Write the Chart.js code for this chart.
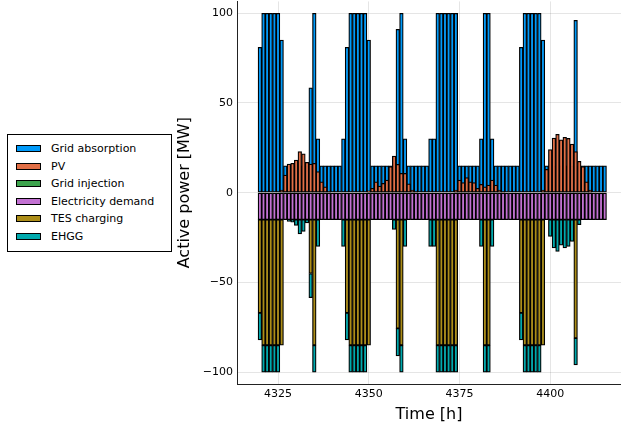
<!DOCTYPE html>
<html>
<head>
<meta charset="utf-8">
<script src="https://cdn.jsdelivr.net/npm/chart.js@4.4.0/dist/chart.umd.min.js"></script>
<style>
  body { margin: 0; background: #fff; }
  #wrap { position: relative; width: 621px; height: 428px; }
  #legend {
    position: absolute; left: 7px; top: 134px;
    width: 163px; height: 111px; padding-top: 5px;
    border: 1px solid #000; background: #fff;
    font: 11px "DejaVu Sans", sans-serif; color: #000;
  }
  .row { height: 17.5px; display: flex; align-items: center; white-space: nowrap; }
  .sw { width: 23px; height: 5px; border: 1px solid #000; margin-left: 8px; margin-right: 10px; }
</style>
</head>
<body>
<div id="wrap">
  <canvas id="powerChart" width="621" height="428"></canvas>
  <div id="legend"></div>
</div>
<script>
// hours of the simulation window
const hours = [
  4320, 4321, 4322, 4323, 4324, 4325, 4326, 4327, 4328, 4329, 4330, 4331, 4332, 4333, 4334, 4335, 4336, 4337, 4338, 4339, 4340, 4341, 4342, 4343,
  4344, 4345, 4346, 4347, 4348, 4349, 4350, 4351, 4352, 4353, 4354, 4355, 4356, 4357, 4358, 4359, 4360, 4361, 4362, 4363, 4364, 4365, 4366, 4367,
  4368, 4369, 4370, 4371, 4372, 4373, 4374, 4375, 4376, 4377, 4378, 4379, 4380, 4381, 4382, 4383, 4384, 4385, 4386, 4387, 4388, 4389, 4390, 4391,
  4392, 4393, 4394, 4395, 4396, 4397, 4398, 4399, 4400, 4401, 4402, 4403, 4404, 4405, 4406, 4407, 4408, 4409, 4410, 4411, 4412, 4413, 4414, 4415
];

const gridAbsorption = [
  81, 100, 100, 100, 100, 100, 85, 15, 15, 15, 15, 15, 15, 15, 58.5, 100, 30, 15, 15, 15, 15, 15, 15, 30,
  81, 100, 100, 100, 100, 100, 85, 15, 15, 15, 15, 15, 15, 15, 91, 100, 30, 15, 15, 15, 15, 15, 15, 30,
  30, 100, 100, 100, 100, 100, 100, 15, 15, 15, 15, 15, 15, 30, 100, 100, 30, 15, 15, 15, 15, 15, 15, 15,
  81, 100, 100, 100, 100, 100, 85, 15, 15, 15, 15, 15, 15, 15, 15, 96, 15, 15, 15, 15, 15, 15, 15, 15
];

const pv = [
  0, 0, 0, 0, 0, 0, 1.5, 9.8, 16, 16.4, 18.2, 22.9, 21.6, 16.9, 16, 16.4, 11.7, 6.1, 3.3, 0.5, 0, 0, 0, 0,
  0, 0, 0, 0, 0, 0, 1, 2.4, 6.1, 3.7, 5.2, 7, 14.5, 20.4, 15.8, 10.8, 10.8, 5, 1.5, 0.3, 0, 0, 0, 0,
  0, 0, 0, 0, 0, 0, 1.5, 7, 5.6, 8.4, 6.1, 5.6, 2.4, 4.6, 3.3, 4.3, 7, 4.3, 1.5, 0.3, 0, 0, 0, 0,
  0, 0, 0, 0, 0, 0, 1.5, 13, 24, 30.5, 32.5, 29.4, 30.9, 30.3, 27.1, 22.9, 17.5, 14.5, 6.1, 1.5, 0, 0, 0, 0
];

const gridInjection = [
  0, 0, 0, 0, 0, 0, 0, 0, 0, 0, 0, 0, 0, 0, 0, 0, 0, 0, 0, 0, 0, 0, 0, 0,
  0, 0, 0, 0, 0, 0, 0, 0, 0, 0, 0, 0, 0, 0, 0, 0, 0, 0, 0, 0, 0, 0, 0, 0,
  0, 0, 0, 0, 0, 0, 0, 0, 0, 0, 0, 0, 0, 0, 0, 0, 0, 0, 0, 0, 0, 0, 0, 0,
  0, 0, 0, 0, 0, 0, 0, 0, 0, 0, 0, 0, 0, 0, 0, 0, 0, 0, 0, 0, 0, 0, 0, 0
];

const electricityDemand = [
  -15, -15, -15, -15, -15, -15, -15, -15, -15, -15, -15, -15, -15, -15, -15, -15, -15, -15, -15, -15, -15, -15, -15, -15,
  -15, -15, -15, -15, -15, -15, -15, -15, -15, -15, -15, -15, -15, -15, -15, -15, -15, -15, -15, -15, -15, -15, -15, -15,
  -15, -15, -15, -15, -15, -15, -15, -15, -15, -15, -15, -15, -15, -15, -15, -15, -15, -15, -15, -15, -15, -15, -15, -15,
  -15, -15, -15, -15, -15, -15, -15, -15, -15, -15, -15, -15, -15, -15, -15, -15, -15, -15, -15, -15, -15, -15, -15, -15
];

const tesCharging = [
  -52, -70, -70, -70, -70, -70, -70, 0, 0, 0, 0, 0, 0, 0, -30, -70, 0, 0, 0, 0, 0, 0, 0, 0,
  -52, -70, -70, -70, -70, -70, -70, 0, 0, 0, 0, 0, 0, 0, -60.6, -70, 0, 0, 0, 0, 0, 0, 0, 0,
  0, -70, -70, -70, -70, -70, -70, 0, 0, 0, 0, 0, 0, 0, -70, -70, 0, 0, 0, 0, 0, 0, 0, 0,
  -52, -70, -70, -70, -70, -70, -70, 0, 0, 0, 0, 0, 0, 0, 0, -66, 0, 0, 0, 0, 0, 0, 0, 0
];

const ehgg = [
  -15, -15, -15, -15, -15, -15, 0, 0, -1, -1.4, -3.2, -8, -6.6, -1.9, -13.5, -15, -15, 0, 0, 0, 0, 0, 0, -15,
  -15, -15, -15, -15, -15, -15, 0, 0, 0, 0, 0, 0, 0, -5.4, -15.4, -15, -15, 0, 0, 0, 0, 0, 0, -15,
  -15, -15, -15, -15, -15, -15, -15, 0, 0, 0, 0, 0, 0, -15, -15, -15, -15, 0, 0, 0, 0, 0, 0, 0,
  -15, -15, -15, -15, -15, -15, 0, 0, -9.3, -15.8, -17.7, -14.3, -15.8, -14.9, -12.1, -15, -2.8, 0, 0, 0, 0, 0, 0, 0
];

const xTicks = [4325, 4350, 4375, 4400];
const yTicks = [-100, -50, 0, 50, 100];

const seriesNames = ["Grid absorption", "PV", "Grid injection", "Electricity demand", "TES charging", "EHGG"];
const seriesColors = ["#009af9", "#e26f46", "#3da44d", "#c271d2", "#ac8d18", "#00a9ad"];

Chart.defaults.font.family = "'DejaVu Sans', sans-serif";
Chart.defaults.color = "#000";

function makeDataset(i, values, stack, order) {
    return {
        label: seriesNames[i],
        data: values,
        backgroundColor: seriesColors[i],
        stack: stack,
        order: order
    };
}

const minusLabel = v => (v < 0 ? "\u2212" + Math.abs(v) : String(v));

new Chart(document.getElementById("powerChart"), {
    type: "bar",
    data: {
        labels: hours,
        datasets: [
            makeDataset(0, gridAbsorption, "abs", 2),
            makeDataset(1, pv, "pv", 0),
            makeDataset(2, gridInjection, "inj", 1),
            makeDataset(3, electricityDemand, "use", 1),
            makeDataset(4, tesCharging, "use", 1),
            makeDataset(5, ehgg, "use", 1)
        ]
    },
    options: {
        responsive: false,
        animation: false,
        layout: { padding: { left: 171, top: 1.4, right: 0, bottom: 0 } },
        plugins: {
            legend: { display: false },
            tooltip: { enabled: false }
        },
        datasets: {
            bar: {
                grouped: false,
                barPercentage: 1,
                categoryPercentage: 1,
                borderColor: "#000",
                borderWidth: 1.25,
                borderSkipped: false
            }
        },
        scales: {
            x: {
                type: "linear",
                min: 4313.7,
                max: 4419.5,
                offset: false,
                afterBuildTicks: scale => { scale.ticks = xTicks.map(v => ({ value: v })); },
                afterFit: scale => {
                    scale.height = 44;
                    scale.paddingLeft = 0;
                    scale.paddingRight = 0;
                },
                grid: { color: "rgba(0,0,0,0.1)", drawTicks: false, offset: false },
                border: { color: "#222", width: 1 },
                ticks: { padding: 4, font: { size: 11 }, callback: v => String(v) },
                title: { display: true, text: "Time [h]", font: { size: 16 }, padding: { top: 0, bottom: 4 } }
            },
            y: {
                stacked: true,
                min: -106.6,
                max: 106.6,
                afterBuildTicks: scale => { scale.ticks = yTicks.map(v => ({ value: v })); },
                afterFit: scale => {
                    scale.width = 66;
                    scale.paddingTop = 0;
                    scale.paddingBottom = 0;
                },
                grid: { color: "rgba(0,0,0,0.1)", drawTicks: false },
                border: { color: "#222", width: 1 },
                ticks: { padding: 4, font: { size: 11 }, callback: minusLabel },
                title: { display: true, text: "Active power [MW]", font: { size: 16 }, padding: { top: 4, bottom: 4 } }
            }
        }
    }
});

// legend drawn as html box on the left, like the original
const legend = document.getElementById("legend");
seriesNames.forEach((name, i) => {
    const row = document.createElement("div");
    row.className = "row";
    row.innerHTML = '<span class="sw" style="background:' + seriesColors[i] + '"></span>' + name;
    legend.appendChild(row);
});
</script>
</body>
</html>
